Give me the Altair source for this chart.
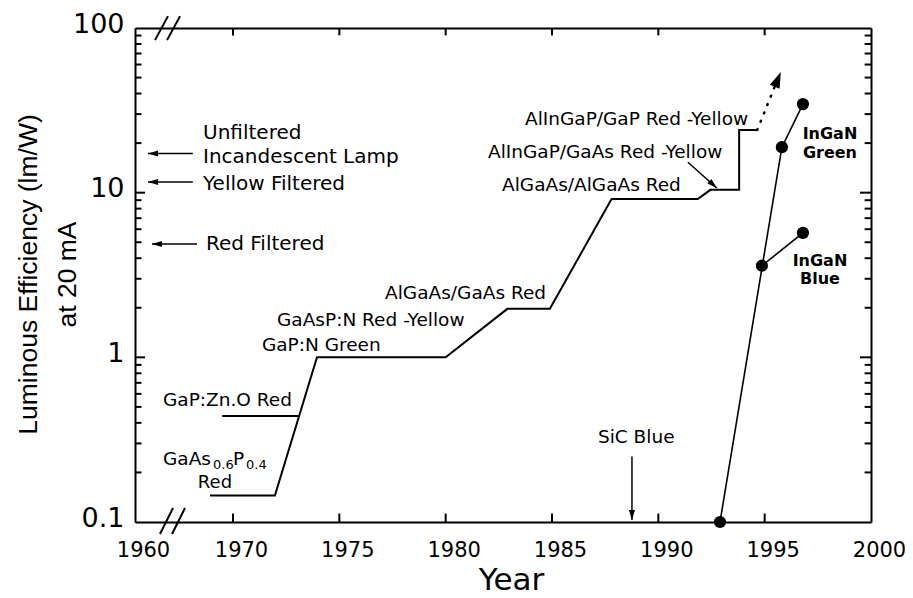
import altair as alt
import pandas as pd

W, H = 736, 494

# ---------------- data ----------------
step_year = [1967.65, 1971.97, 1973.95, 1980.0, 1982.9, 1984.9, 1987.8, 1991.85, 1992.45, 1993.8, 1993.8, 1994.65]
step_eff = [0.145, 0.145, 1.0, 1.0, 1.97, 1.97, 9.15, 9.15, 10.4, 10.4, 24.0, 24.0]

zno_year = [1968.9, 1973.06]
zno_eff = [0.44, 0.44]

ingan_series = ["green", "green", "green", "blue", "blue"]
ingan_year = [1992.9, 1995.81, 1996.8, 1994.87, 1996.8]
ingan_eff = [0.1, 18.9, 34.5, 3.6, 5.7]

point_year = [1992.9, 1994.87, 1995.81, 1996.8, 1996.8]
point_eff = [0.1, 3.6, 18.9, 34.5, 5.7]

proj_year = [1994.65, 1995.47]
proj_eff = [24.0, 44.0]
proj_tip_year = [1995.76]
proj_tip_eff = [54.0]
proj_tip_angle = [22.5]

arrow_year = [1965.9, 1965.9, 1966.33, 1988.76, 1991.39]
arrow_year2 = [1961.33, 1961.33, 1961.73, 1988.76, 1992.75]
arrow_eff = [17.3, 11.6, 4.87, 0.25, 15.3]
arrow_eff2 = [17.3, 11.6, 4.87, 0.103, 10.67]
arrow_angle = [270, 270, 270, 180, 132]

label_text = ["AlInGaP/GaP Red -Yellow", "AlInGaP/GaAs Red -Yellow", "AlGaAs/AlGaAs Red",
              "AlGaAs/GaAs Red", "GaAsP:N Red -Yellow", "GaP:N Green", "GaP:Zn.O Red",
              "GaAs", "P", "SiC Blue"]
label_year = [1983.73, 1981.99, 1982.65, 1977.15, 1972.07, 1971.36, 1962.86, 1962.86, 1970.0, 1987.16]
label_eff = [28.0, 17.6, 11.1, 2.45, 1.685, 1.19, 0.55, 0.24, 0.24, 0.328]

sub_text = ["0.6", "0.4"]
sub_year = [1967.96, 1970.61]
sub_eff = [0.222, 0.222]

lamp_text = ["Unfiltered", "Incandescent Lamp", "Yellow Filtered", "Red Filtered"]
lamp_year = [1966.94, 1966.94, 1966.94, 1967.24]
lamp_eff = [23.0, 16.4, 11.3, 4.88]

red_text = ["Red"]
red_year = [1968.16]
red_eff = [0.173]

ingan_text = ["InGaN", "Green", "InGaN", "Blue"]
ingan_lbl_year = [1998.07, 1998.07, 1997.6, 1997.6]
ingan_lbl_eff = [22.6, 17.5, 3.85, 2.97]

brk_year = [1962.55, 1963.78, 1962.04, 1963.27]
brk_year2 = [1963.88, 1965.1, 1963.37, 1964.6]
brk_eff = [0.0846, 0.0846, 84.4, 84.4]
brk_eff2 = [0.1216, 0.1216, 118.1, 118.1]

x_tick_labels = [1960, 1970, 1975, 1980, 1985, 1990, 1995, 2000]
x_inner_ticks = [1970, 1975, 1980, 1985, 1990, 1995]
y_tick_labels = [0.1, 1, 10, 100]
y_major_inner = [1, 10]
y_minor_inner = [0.2, 0.3, 0.4, 0.5, 0.6, 0.7, 0.8, 0.9,
                 2, 3, 4, 5, 6, 7, 8, 9,
                 20, 30, 40, 50, 60, 70, 80, 90]

# tick start/end positions (data units at the frame edges)
LEFT_EDGE, LEFT_MAJOR_END, LEFT_MINOR_END = 1960.0, 1961.02, 1960.66
RIGHT_EDGE, RIGHT_MAJOR_END, RIGHT_MINOR_END = 2000.0, 1999.48, 1999.70
BOTTOM_EDGE, BOTTOM_TICK_END = 0.1, 0.1125
TOP_EDGE, TOP_TICK_END = 100.0, 90.2

# ---------------- scales / axes ----------------
FONT = "DejaVu Sans"
xscale = alt.Scale(domain=[1960, 1970, 2000], range=[0, 98, W], nice=False, zero=False)
yscale = alt.Scale(type="log", domain=[0.1, 100], nice=False)

x_main = alt.Axis(orient="bottom", values=x_tick_labels, format="d", ticks=False, tickSize=0,
                  labelFont=FONT, labelFontSize=21, labelPadding=17, labelOffset=8, labelColor="black",
                  labelFlush=False, labelOverlap=False, domainColor="black", domainWidth=2, grid=False,
                  title="Year", titleFont=FONT, titleFontSize=31, titleFontWeight="normal",
                  titleColor="black", titleX=376, titleY=67, titleBaseline="alphabetic")
y_main = alt.Axis(orient="left", values=y_tick_labels, format="~g", ticks=False, tickSize=0,
                  labelFont=FONT, labelFontSize=27, labelPadding=11, labelOffset=-4, labelColor="black",
                  labelFlush=False, labelOverlap=False, domainColor="black", domainWidth=2, grid=False,
                  title=["Luminous Efficiency (lm/W)", "at 20 mA"],
                  titleFont="Liberation Sans", titleFontSize=26.5, titleFontWeight="normal",
                  titleColor="black", titleAngle=270, titleAlign="center", titleBaseline="alphabetic",
                  titleX=-99, titleY=246, titleLineHeight=39)
x_frame_top = alt.Axis(orient="bottom", offset=-H, values=x_inner_ticks, labels=False, domain=True,
                       domainColor="black", domainWidth=2, ticks=False, grid=False, title=None)
y_frame_right = alt.Axis(orient="left", offset=-W, values=y_major_inner, labels=False, domain=True,
                         domainColor="black", domainWidth=2, ticks=False, grid=False, title=None)


def X(field, axis=None):
    return alt.X(field, type="quantitative", scale=xscale, axis=axis)


def Y(field, axis=None):
    return alt.Y(field, type="quantitative", scale=yscale, axis=axis)


# ---------------- tables ----------------
step_df = pd.DataFrame({"x": step_year, "y": step_eff, "i": range(len(step_year))})
zno_df = pd.DataFrame({"x": zno_year, "y": zno_eff, "i": range(len(zno_year))})
ingan_df = pd.DataFrame({"s": ingan_series, "x": ingan_year, "y": ingan_eff, "i": range(len(ingan_year))})
pt_df = pd.DataFrame({"x": point_year, "y": point_eff})
proj_df = pd.DataFrame({"x": [proj_year[0]], "x2": [proj_year[1]], "y": [proj_eff[0]], "y2": [proj_eff[1]]})
tip_df = pd.DataFrame({"x": proj_tip_year, "y": proj_tip_eff, "a": proj_tip_angle})
arr_df = pd.DataFrame({"x": arrow_year, "x2": arrow_year2, "y": arrow_eff, "y2": arrow_eff2, "a": arrow_angle})
lbl_df = pd.DataFrame({"t": label_text, "x": label_year, "y": label_eff})
sub_df = pd.DataFrame({"t": sub_text, "x": sub_year, "y": sub_eff})
lamp_df = pd.DataFrame({"t": lamp_text, "x": lamp_year, "y": lamp_eff})
red_df = pd.DataFrame({"t": red_text, "x": red_year, "y": red_eff})
ing_df = pd.DataFrame({"t": ingan_text, "x": ingan_lbl_year, "y": ingan_lbl_eff})
brk_df = pd.DataFrame({"x": brk_year, "x2": brk_year2, "y": brk_eff, "y2": brk_eff2})

ytick_rows = (
    [{"v": v, "a": LEFT_EDGE, "b": LEFT_MAJOR_END} for v in y_major_inner]
    + [{"v": v, "a": LEFT_EDGE, "b": LEFT_MINOR_END} for v in y_minor_inner]
    + [{"v": v, "a": RIGHT_EDGE, "b": RIGHT_MAJOR_END} for v in y_major_inner]
    + [{"v": v, "a": RIGHT_EDGE, "b": RIGHT_MINOR_END} for v in y_minor_inner]
)
xtick_rows = (
    [{"v": v, "a": BOTTOM_EDGE, "b": BOTTOM_TICK_END} for v in x_inner_ticks]
    + [{"v": v, "a": TOP_EDGE, "b": TOP_TICK_END} for v in x_inner_ticks]
)
ytick_df = pd.DataFrame(ytick_rows)
xtick_df = pd.DataFrame(xtick_rows)

ARROW = "M0,0L-0.3,1L0.3,1Z"
BIG_ARROW = "M0,0L-0.33,1L0.33,1Z"

step = alt.Chart(step_df).mark_line(color="black", strokeWidth=2).encode(
    x=X("x", x_main), y=Y("y", y_main), order="i:Q")
zno = alt.Chart(zno_df).mark_line(color="black", strokeWidth=2).encode(
    x=X("x"), y=Y("y"), order="i:Q")
ingan = alt.Chart(ingan_df).mark_line(color="black", strokeWidth=1.6).encode(
    x=X("x", x_frame_top), y=Y("y", y_frame_right), detail="s:N", order="i:Q")
pts = alt.Chart(pt_df).mark_point(filled=True, color="black", size=150, opacity=1, clip=False).encode(
    x=X("x"), y=Y("y"))
proj = alt.Chart(proj_df).mark_rule(color="black", strokeWidth=2.5, strokeDash=[1, 8], strokeCap="round").encode(
    x=X("x"), x2="x2", y=Y("y"), y2="y2")
tip = alt.Chart(tip_df).mark_point(shape=BIG_ARROW, filled=True, color="black", size=1024, opacity=1).encode(
    x=X("x"), y=Y("y"), angle=alt.Angle("a:Q", scale=None))
arr = alt.Chart(arr_df).mark_rule(color="black", strokeWidth=1.5).encode(
    x=X("x"), x2="x2", y=Y("y"), y2="y2")
arr_head = alt.Chart(arr_df).mark_point(shape=ARROW, filled=True, color="black", size=400, opacity=1).encode(
    x=X("x2"), y=Y("y2"), angle=alt.Angle("a:Q", scale=None))
lbl = alt.Chart(lbl_df).mark_text(align="left", baseline="middle", font=FONT, fontSize=18.5, color="black").encode(
    x=X("x"), y=Y("y"), text="t:N")
sub = alt.Chart(sub_df).mark_text(align="left", baseline="middle", font=FONT, fontSize=13, color="black").encode(
    x=X("x"), y=Y("y"), text="t:N")
lamp = alt.Chart(lamp_df).mark_text(align="left", baseline="middle", font=FONT, fontSize=20, color="black").encode(
    x=X("x"), y=Y("y"), text="t:N")
red = alt.Chart(red_df).mark_text(align="center", baseline="middle", font=FONT, fontSize=18, color="black").encode(
    x=X("x"), y=Y("y"), text="t:N")
ing = alt.Chart(ing_df).mark_text(align="center", baseline="middle", font=FONT, fontSize=16, fontWeight="bold",
                                  color="black").encode(x=X("x"), y=Y("y"), text="t:N")
brk = alt.Chart(brk_df).mark_rule(color="black", strokeWidth=2, clip=False).encode(
    x=X("x"), x2="x2", y=Y("y"), y2="y2")

# inward-pointing frame ticks
yticks = alt.Chart(ytick_df).mark_rule(color="black", strokeWidth=2).encode(
    x=X("a"), x2="b", y=Y("v"), y2="v")
xticks = alt.Chart(xtick_df).mark_rule(color="black", strokeWidth=2).encode(
    x=X("v"), x2="v", y=Y("a"), y2="b")

chart = alt.layer(
    step, zno, ingan, proj, tip, arr, arr_head, pts, lbl, sub, lamp, red, ing, brk, yticks, xticks
).resolve_axis(x="independent", y="independent").properties(
    width=W, height=H,
    autosize=alt.AutoSizeParams(type="none"),
    padding={"left": 127, "top": 20, "right": 34, "bottom": 74},
).configure_view(stroke=None).configure(background="white")

chart.save("out.html", embed_options={"renderer": "svg", "actions": False})
